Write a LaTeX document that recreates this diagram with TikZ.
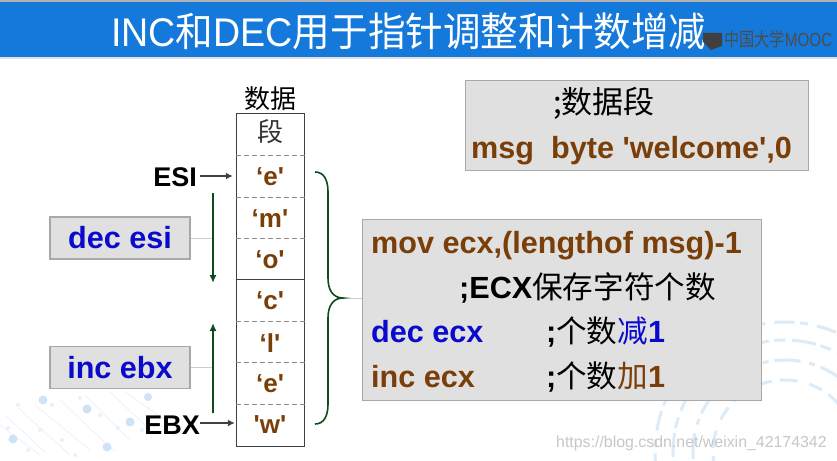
\documentclass[tikz,border=0pt]{standalone}
\usepackage{fontspec}
\setmainfont{Liberation Sans}
\newfontfamily\cjk{Noto Sans CJK SC}
\usetikzlibrary{arrows.meta}
\definecolor{band}{HTML}{1479DB}
\definecolor{boxfill}{HTML}{E0E0E0}
\definecolor{boxline}{HTML}{A8A8A8}
\definecolor{codebrown}{HTML}{7A3E08}
\definecolor{codeblue}{HTML}{0A0ACD}
\definecolor{deepgreen}{HTML}{0E4A1E}
\definecolor{deco}{HTML}{DCEBF8}
\definecolor{decodot}{HTML}{CFE3F7}
\definecolor{decotrace}{HTML}{EEF4FB}
\newcommand{\fs}[1]{\fontsize{#1}{#1}\selectfont}
\newcommand{\sq}{\textquotesingle}
\tikzset{
  x=1pt,y=-1pt,
  graybox/.style={draw=boxline,fill=boxfill,line width=1.2pt,minimum height=42pt,minimum width=140pt,inner sep=0pt},
  cmd/.style={font=\fs{30.6}\bfseries,text=codeblue},
  cell/.style={minimum width=68pt,inner sep=0pt,font=\fs{26}\bfseries,text=codebrown},
  code/.style={anchor=base west,inner sep=0pt,font=\fs{30.6}\bfseries,text=codebrown},
  codeblk/.style={code,text=black},
  reg/.style={font=\fs{27}\bfseries,inner sep=0pt,text=black},
  ptr/.style={draw=black!75,line width=1.3pt,-{Latex[length=7pt,width=7pt]}},
  move/.style={draw=deepgreen,line width=1.8pt,-{Latex[length=8pt,width=7pt]}},
  lead/.style={draw=black!20,line width=1pt},
  sep/.style={draw=black!45,line width=1pt,dash pattern=on 5pt off 3pt},
  arcdeco/.style={draw=deco,line width=3pt},
}
\begin{document}
\begin{tikzpicture}
\useasboundingbox (0,0) rectangle (837,460);
\fill[white] (0,0) rectangle (837,460);
% background decoration, lower left
\foreach \ax/\ay/\bx/\by in {0/425/40/455,5/415/45/452,18/408/70/455,35/405/90/450,60/400/115/452,85/395/130/440,110/392/150/430,125/392/165/420}
  \draw[decotrace,line width=1pt] (\ax,\ay) -- (\bx,\by);
\foreach \cx/\cy/\r in {18/405/2,52/405/2,80/398/2,100/415/2,40/430/2,62/440/2,118/428/2,75/455/2,8/428/2,142/430/2,28/450/2}
  \fill[decotrace!80!decodot] (\cx,\cy) circle (\r);
\foreach \cx/\cy/\r in {43/400/4.5,87/409/4.5,130/422/4.5,13/439/4.5,107/447/4.5,148/397/4}
  \fill[decodot] (\cx,\cy) circle (\r);
% background decoration, lower right
\begin{scope}
\clip (640,300) rectangle (837,460);
\draw[arcdeco,dash pattern=on 20pt off 6pt on 8pt off 9pt] (785,452) circle (130);
\draw[arcdeco,dash pattern=on 11pt off 7pt on 24pt off 5pt] (785,452) circle (112);
\draw[arcdeco,dash pattern=on 26pt off 9pt on 6pt off 6pt] (785,452) circle (92);
\draw[arcdeco,dash pattern=on 14pt off 8pt on 18pt off 12pt] (785,452) circle (72);
\end{scope}
% title band
\fill[black!30] (0,0) rectangle (837,2);
\fill[band] (0,2) rectangle (837,57);
\fill[black!12] (0,57) rectangle (837,59);
\node[anchor=base west,inner sep=0pt,text=white,font=\fs{40},xscale=.94,transform shape] (title) at (111,47) {INC{\cjk 和}DEC{\cjk 用于指针调整和计数增减}};
\fill[black!75] (703,33) -- (722,33) -- (722,46) -- (711,50) -- (703,42) -- cycle;
\node[anchor=base west,inner sep=0pt,text=black!70,font=\fs{19},xscale=.8,transform shape] (mooc) at (724,46) {{\cjk 中国大学}MOOC};
% data segment
\node[anchor=base,inner sep=0pt,font=\fs{26}\cjk] (segtitle) at (270,108) {数据};
\node[cell,draw=black!75,line width=1pt,minimum height=333pt,anchor=north] (mem) at (270,113) {};
\node[cell,minimum height=42pt,font=\fs{26}\cjk,text=black!80] (c0) at (270,132) {段};
\node[cell,minimum height=41pt] (c1) at (270,177) {‘e\sq};
\node[cell,minimum height=41pt] (c2) at (270,219) {‘m\sq};
\node[cell,minimum height=41pt] (c3) at (270,260) {‘o\sq};
\node[cell,minimum height=41pt] (c4) at (270,301) {‘c\sq};
\node[cell,minimum height=41pt] (c5) at (270,343) {‘l\sq};
\node[cell,minimum height=41pt] (c6) at (270,384) {‘e\sq};
\node[cell,minimum height=41pt] (c7) at (270,425) {\sq w\sq};
\foreach \yy in {155,197,238,321,362,404}
  \draw[sep] (mem.west |- 0,\yy) -- (mem.east |- 0,\yy);
\draw[draw=black!75,line width=1pt] (mem.west |- 0,279) -- (mem.east |- 0,279);
% registers
\node[reg,anchor=east] (esi) at (197,177) {ESI};
\node[reg,anchor=east] (ebx) at (200,425) {EBX};
\draw[ptr] ([shift={(3,-1)}]esi.east) -- ([shift={(-3,-1)}]c1.west);
\draw[ptr] ([shift={(0,-2)}]ebx.east) -- ([shift={(-1,-2)}]c7.west);
% movement arrows
\coordinate (d1) at (213,193); \coordinate (d2) at (213,283);
\coordinate (u1) at (213,413); \coordinate (u2) at (213,323);
\node[graybox,cmd] (dec) at (120,238) {dec esi};
\node[graybox,cmd] (inc) at (120,367.5) {inc ebx};
\draw[lead] (dec.east) -- (213,238);
\draw[lead] (inc.east) -- (213,367.5);
\draw[move] (d1) -- (d2);
\draw[move] (u1) -- (u2);
% code box
\node[draw=boxline,fill=boxfill,line width=1.2pt,minimum width=399pt,minimum height=181pt,inner sep=0pt,anchor=north west] (code) at (362,219) {};
\node[draw=boxline,fill=boxfill,line width=1.2pt,minimum width=343pt,minimum height=90pt,inner sep=0pt,anchor=north west] (data) at (465,80) {};
\node[codeblk,font=\fs{31}\cjk] (dl1) at (553,113) {;数据段};
\node[code] (dl2) at (471,158) {msg\ \ byte \sq welcome\sq,0};
\node[code] (l1) at (371,253) {mov ecx,(lengthof msg)-1};
\node[codeblk] (l2) at (459,298) {;ECX{\cjk\mdseries 保存字符个数}};
\node[code,text=codeblue] (l3) at (371,342) {dec ecx};
\node[code] (l4) at (371,387) {inc ecx};
\node[codeblk] (l3c) at (546,342) {;{\cjk\mdseries 个数}\textcolor{codeblue}{{\cjk\mdseries 减}1}};
\node[codeblk] (l4c) at (546,387) {;{\cjk\mdseries 个数}\textcolor{codebrown}{{\cjk\mdseries 加}1}};
% brace
\coordinate (bt) at (315,172); \coordinate (bb) at (315,424); \coordinate (bm) at (343,298);
\draw[lead] (bm) -- (code.west |- bm);
\draw[deepgreen,line width=1.6pt] (bt) .. controls (324,172) and (328,180) .. (328,192) -- (328,278) .. controls (328,290) and (333,298) .. (bm) .. controls (333,298) and (328,306) .. (328,318) -- (328,404) .. controls (328,416) and (324,424) .. (bb);
% watermark
\node[anchor=base west,inner sep=0pt,text=black!22,font=\fs{15.9}] (wm) at (556,447) {https://blog.csdn.net/weixin\_42174342};
\end{tikzpicture}
\end{document}
